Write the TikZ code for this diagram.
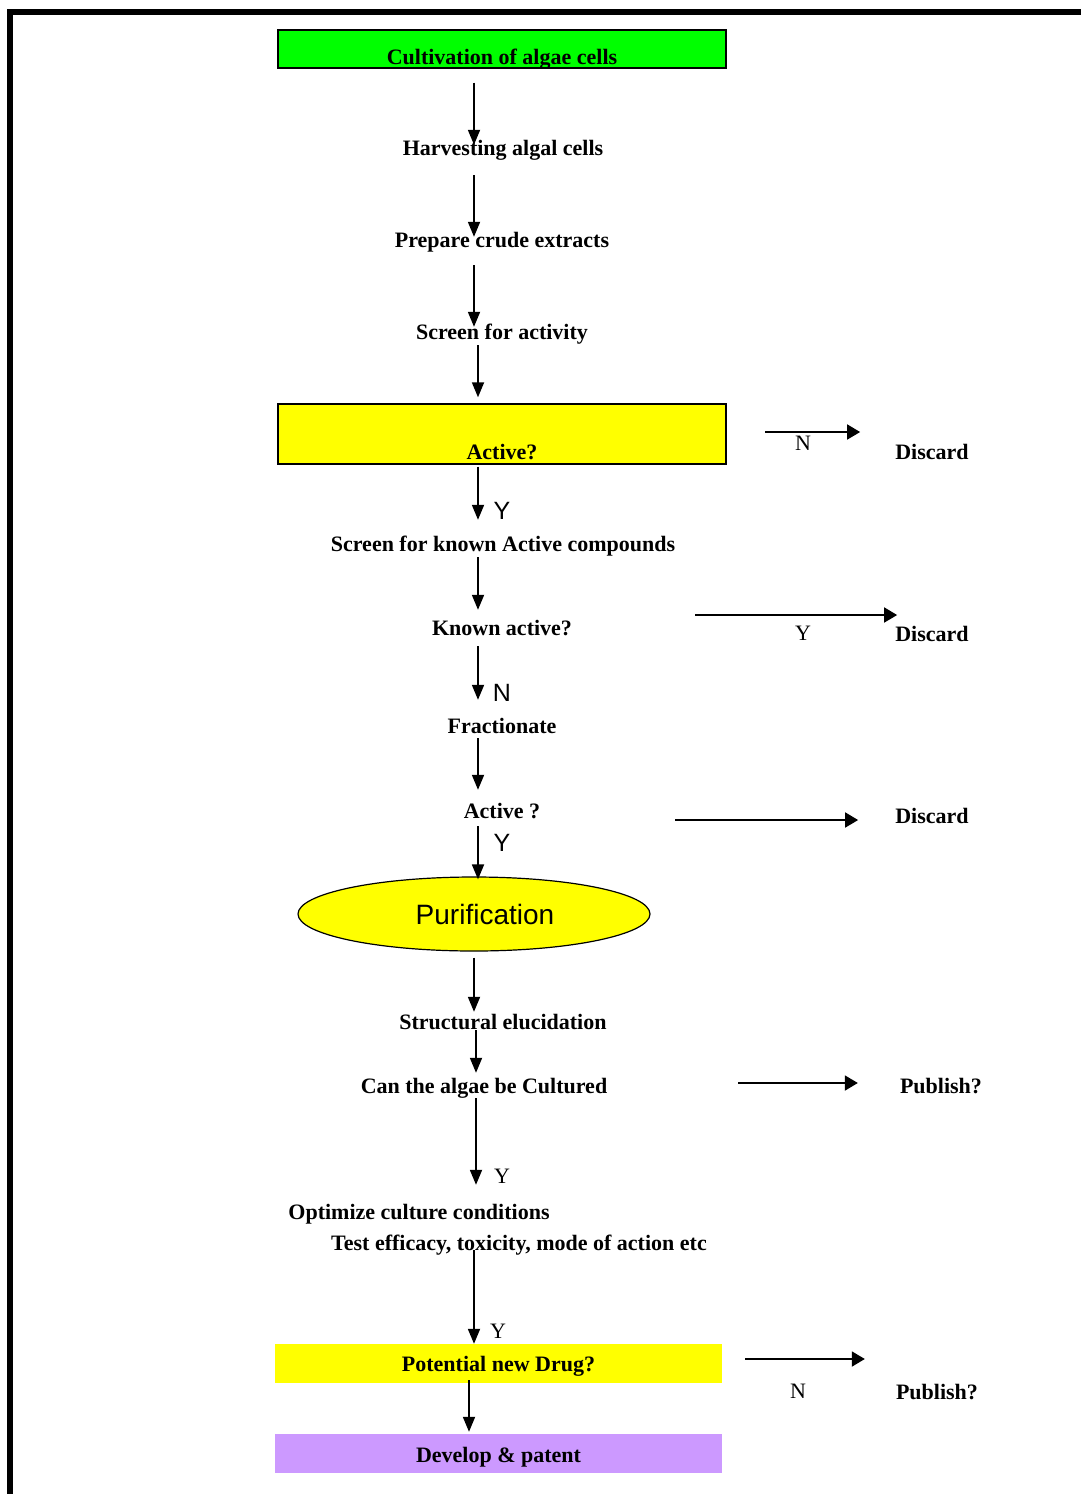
\documentclass[tikz,border=0pt]{standalone}
\usepackage{fontspec}
\setmainfont{Liberation Serif}
\setsansfont{Liberation Sans}
\usetikzlibrary{arrows.meta,shapes.geometric}
\definecolor{boxgreen}{HTML}{00FF00}
\definecolor{boxyellow}{HTML}{FFFF00}
\definecolor{boxpurple}{HTML}{CC99FF}
\begin{document}
\begin{tikzpicture}
    [x=1pt,y=-1pt,
     Stage/.style={inner sep=0pt,anchor=base,font=\fontsize{22}{26}\selectfont\bfseries,text height=15pt,text depth=5pt},
     Box/.style={Stage,anchor=center,minimum width=448pt,minimum height=38pt},
     Ans/.style={inner sep=0pt,anchor=base,font=\fontsize{22}{26}\selectfont},
     BigAns/.style={inner sep=0pt,anchor=base,font=\sffamily\fontsize{25}{30}\selectfont},
     Arr/.style={line width=1.8pt,-{Triangle[length=15pt,width=12pt]}},
     SideArr/.style={line width=1.8pt,-{Triangle[length=13pt,width=15pt]}}]
    \useasboundingbox (0,0) rectangle (1081,1494);
    % frame
    \fill (7,9) rectangle (1081,15);
    \fill (7,9) rectangle (13,1494);
    % main column
    \node[Box,draw,line width=1.4pt,fill=boxgreen,text height=33pt,text depth=3pt] (cult) at (502,49) {Cultivation of algae cells};
    \node[Stage] (harv) at (503,155) {Harvesting algal cells};
    \node[Stage] (prep) at (502,247) {Prepare crude extracts};
    \node[Stage] (screen) at (502,339) {Screen for activity};
    \node[Box,draw,line width=1.4pt,fill=boxyellow,minimum height=60pt,text height=54pt,text depth=4pt] (act1) at (502,434) {Active?};
    \node[Stage] (known) at (503,551) {Screen for known Active compounds};
    \node[Stage] (knownq) at (502,635) {Known active?};
    \node[Stage] (frac) at (502,733) {Fractionate};
    \node[Stage] (act2) at (502,818) {Active ?};
    \node[ellipse,draw,line width=1.2pt,fill=boxyellow,minimum width=352pt,minimum height=74pt,inner sep=0pt,
          font=\sffamily\fontsize{28}{33}\selectfont] (puri) at (474,914) {\hspace*{22pt}Purification};
    \node[Stage] (struct) at (503,1029) {Structural elucidation};
    \node[Stage] (cancul) at (484,1093) {Can the algae be Cultured};
    \node[Stage] (optim) at (419,1219) {Optimize culture conditions};
    \node[Stage] (test) at (519,1250) {Test efficacy, toxicity, mode of action etc};
    \node[Box,fill=boxyellow,minimum height=39pt,minimum width=447pt,text height=20pt,text depth=5pt] (drug) at (498.5,1363.5) {Potential new Drug?};
    \node[Box,fill=boxpurple,minimum height=39pt,minimum width=447pt,text height=21pt,text depth=4pt] (dev) at (498.5,1453.5) {Develop \& patent};
    % side results
    \node[Stage] (disc1) at (932,459) {Discard};
    \node[Stage] (disc2) at (932,641) {Discard};
    \node[Stage] (disc3) at (932,823) {Discard};
    \node[Stage] (pub1) at (941,1093) {Publish?};
    \node[Stage] (pub2) at (937,1399) {Publish?};
    % answers
    \node[Ans] (lN1) at (803,450) {N};
    \node[BigAns] (lY1) at (502,519) {Y};
    \node[Ans] (lY2) at (803,640) {Y};
    \node[BigAns] (lN2) at (502,701) {N};
    \node[BigAns] (lY3) at (502,851) {Y};
    \node[Ans] (lY4) at (502,1183) {Y};
    \node[Ans] (lY5) at (498,1338) {Y};
    \node[Ans] (lN3) at (798,1398) {N};
    % columns and tails
    \coordinate (colA) at (474,0);
    \coordinate (colB) at (478,0);
    \coordinate (colC) at (476,0);
    \coordinate (colD) at (469,0);
    \coordinate (tN1) at (765,432);
    \coordinate (tY2) at (695,615);
    \coordinate (tD3) at (675,820);
    \coordinate (tP1) at (738,1083);
    \coordinate (tP2) at (745,1359);
    % down arrows
    \draw[Arr,shorten <=14pt,shorten >=-5pt] (cult.south -| colA) -- (harv.north -| colA);
    \draw[Arr,shorten <=15pt,shorten >=-5pt] (harv.south -| colA) -- (prep.north -| colA);
    \draw[Arr,shorten <=13pt,shorten >=-3pt] (prep.south -| colA) -- (screen.north -| colA);
    \draw[Arr,shorten <=1pt,shorten >=6pt] (screen.south -| colB) -- (act1.north -| colB);
    \draw[Arr,shorten <=2pt,shorten >=16pt] (act1.south -| colB) -- (known.north -| colB);
    \draw[Arr,shorten <=1pt,shorten >=10pt] (known.south -| colB) -- (knownq.north -| colB);
    \draw[Arr,shorten <=6pt,shorten >=18pt] (knownq.south -| colB) -- (frac.north -| colB);
    \draw[Arr,shorten >=13pt] (frac.south -| colB) -- (act2.north -| colB);
    \draw[Arr,shorten <=3pt,shorten >=-3pt] (act2.south -| colB) -- (puri.north -| colB);
    \draw[Arr,shorten <=6pt,shorten >=2pt] (puri.south -| colA) -- (struct.north -| colA);
    \draw[Arr,shorten <=-4pt,shorten >=5pt] (struct.south -| colC) -- (cancul.north -| colC);
    \draw[Arr,shorten >=19pt] (cancul.south -| colC) -- (optim.north -| colC);
    \draw[Arr,shorten <=-5pt] (test.south -| colA) -- (drug.north -| colA);
    \draw[Arr,shorten <=-3pt,shorten >=2pt] (drug.south -| colD) -- (dev.north -| colD);
    % side arrows
    \draw[SideArr,shorten >=35pt] (tN1) -- (disc1.west |- tN1);
    \draw[SideArr,shorten >=-2pt] (tY2) -- (disc2.west |- tY2);
    \draw[SideArr,shorten >=37pt] (tD3) -- (disc3.west |- tD3);
    \draw[SideArr,shorten >=42pt] (tP1) -- (pub1.west |- tP1);
    \draw[SideArr,shorten >=31pt] (tP2) -- (pub2.west |- tP2);
\end{tikzpicture}
\end{document}
